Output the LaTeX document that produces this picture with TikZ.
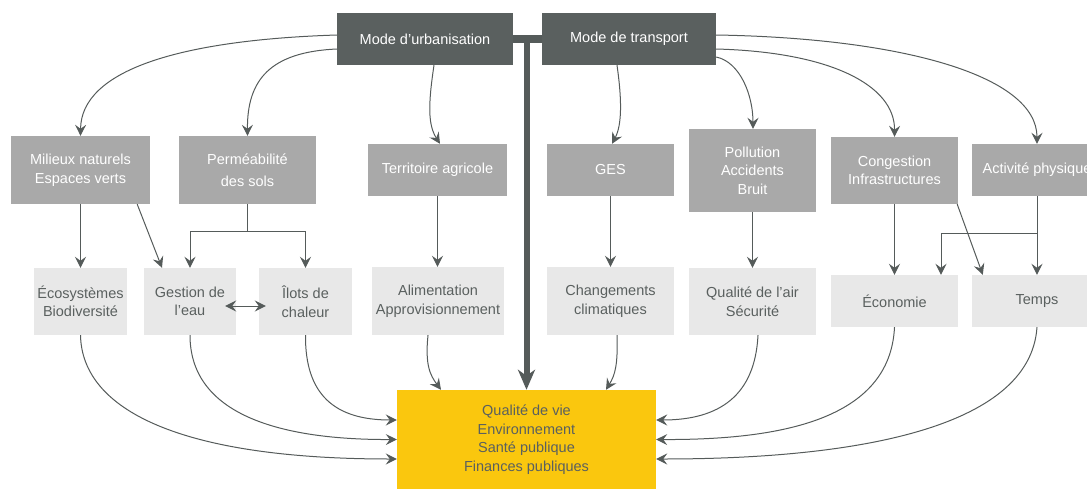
\documentclass[tikz,border=0pt]{standalone}
\usepackage{fontspec}
\setmainfont{Liberation Sans}
\usetikzlibrary{arrows.meta}

\definecolor{darkbox}{RGB}{90,96,95}
\definecolor{midbox}{RGB}{169,169,169}
\definecolor{lightbox}{RGB}{232,232,232}
\definecolor{yellowbox}{RGB}{250,199,14}
\definecolor{linegray}{RGB}{85,91,90}

\begin{document}
\begin{tikzpicture}[x=1pt, y=-1pt,
    every node/.style={font=\fontsize{14.5}{18.5}\selectfont, align=center, inner sep=0pt},
    topbox/.style={fill=darkbox, text=white, minimum height=52},
    midnode/.style={fill=midbox, text=white},
    lownode/.style={fill=lightbox, text=darkbox},
    arr/.style={draw=linegray, line width=1pt, -{Stealth[length=11pt, width=11pt, inset=4pt]}},
  ]
    \useasboundingbox (0,0) rectangle (1087,490);

    % Top row
    \node[topbox, minimum width=176] (urb) at (425,39) {Mode d’urbanisation};
    \node[topbox, minimum width=174] (trans) at (629,39) {Mode de transport};

    % Middle row
    \node[midnode, minimum width=139, minimum height=68] (milieux) at (80.5,170) {Milieux naturels\\Espaces verts};
    \node[midnode, minimum width=137, minimum height=68] (perm) at (247.5,170) {Perméabilité\\[3pt]des sols};
    \node[midnode, minimum width=139, minimum height=52] (terr) at (437.5,170) {Territoire agricole};
    \node[midnode, minimum width=127, minimum height=52] (ges) at (610.5,170) {GES};
    \node[midnode, minimum width=127, minimum height=83] (poll) at (752.5,170.5) {Pollution\\Accidents\\Bruit};
    \node[midnode, minimum width=127, minimum height=67] (cong) at (894.5,170.5) {Congestion\\Infrastructures};
    \node[midnode, minimum width=130, minimum height=52] (activ) at (1037,170) {Activité physique};

    % Bottom row
    \node[lownode, minimum width=93, minimum height=67] (eco) at (80.5,301.5) {Écosystèmes\\Biodiversité};
    \node[lownode, minimum width=92, minimum height=67] (gestion) at (190,301.5) {Gestion de\\l’eau};
    \node[lownode, minimum width=93, minimum height=67] (ilots) at (305.5,301.5) {Îlots de\\chaleur};
    \node[lownode, minimum width=132, minimum height=68] (alim) at (438,301) {Alimentation\\Approvisionnement};
    \node[lownode, minimum width=127, minimum height=68] (chang) at (610.5,301) {Changements\\climatiques};
    \node[lownode, minimum width=127, minimum height=67] (air) at (752.5,301.5) {Qualité de l’air\\Sécurité};
    \node[lownode, minimum width=127, minimum height=52] (econ) at (894.5,301) {Économie};
    \node[lownode, minimum width=130, minimum height=52] (temps) at (1037,301) {Temps};

    % Result
    \node[fill=yellowbox, text=darkbox, minimum width=259, minimum height=99] (qual) at (526.5,439.5)
        {Qualité de vie\\Environnement\\Santé publique\\Finances publiques};

    % Thick link between the two modes
    \coordinate (junc) at (urb.east -| qual.north);
    \draw[linegray, line width=8pt] (urb.east) -- (trans.west);
    \draw[linegray, line width=6pt, -{Stealth[length=20pt, width=17pt, inset=6pt]}] (junc) -- (qual.north);

    % Mode d'urbanisation -> middle row
    \draw[arr] ([yshift=4]urb.west) .. controls (180,40) and (81,70) .. (milieux.north);
    \draw[arr] ([yshift=-10]urb.west) .. controls (270,52) and (247,80) .. (perm.north);
    \draw[arr] ([xshift=9]urb.south) .. controls (428,105) and (428,125) .. ([xshift=2.5]terr.north);

    % Mode de transport -> middle row
    \draw[arr] ([xshift=-12]trans.south) .. controls (622,100) and (622,125) .. ([xshift=1.5]ges.north);
    \draw[arr] ([yshift=-18]trans.east) .. controls (740,62) and (753,95) .. ([xshift=0.5]poll.north);
    \draw[arr] ([yshift=-10]trans.east) .. controls (830,52) and (895,85) .. (cong.north);
    \draw[arr] ([yshift=4]trans.east) .. controls (900,38) and (1037,75) .. (activ.north);

    % Middle row -> bottom row
    \draw[arr] (milieux.south) -- (eco.north);
    \draw[arr] ([xshift=-13]milieux.south east) -- ([xshift=-28]gestion.north);
    \coordinate (permfork) at (247.5,231);
    \draw[arr] (perm.south) -- (permfork) -| (gestion.north);
    \draw[arr] (permfork) -| (ilots.north);
    \draw[arr, {Stealth[length=11pt, width=11pt, inset=4pt]}-{Stealth[length=11pt, width=11pt, inset=4pt]}]
        ([xshift=-11, yshift=-4.5]gestion.east) -- ([xshift=7, yshift=-4.5]ilots.west);
    \draw[arr] (terr.south) -- (terr.south |- alim.north);
    \draw[arr] (ges.south) -- (chang.north);
    \draw[arr] (poll.south) -- (air.north);
    \draw[arr] (cong.south) -- (econ.north);
    \draw[arr] ([xshift=-1]cong.south east) -- ([xshift=11]temps.north west);
    \coordinate (actfork) at (1037,233);
    \draw[arr] (activ.south) -- (temps.north);
    \draw[arr] (actfork) -| ([xshift=46.5]econ.north);

    % Bottom row -> Qualite de vie
    \draw[arr] (eco.south) .. controls (82,410) and (180,459) .. ([yshift=-19.5]qual.west);
    \draw[arr] (gestion.south) .. controls (190,410) and (270,440) .. (qual.west);
    \draw[arr] (ilots.south) .. controls (305,395) and (335,420) .. ([yshift=19.5]qual.west);
    \draw[arr] ([xshift=-10]alim.south) .. controls (425,365) and (430,375) .. ([xshift=-85.5]qual.north);
    \draw[arr] ([xshift=6.5]chang.south) .. controls (618,365) and (615,375) .. ([xshift=79.5]qual.north);
    \draw[arr] ([xshift=5.5]air.south) .. controls (755,395) and (720,420) .. ([yshift=19.5]qual.east);
    \draw[arr] (econ.south) .. controls (890,420) and (780,440) .. (qual.east);
    \draw[arr] (temps.south) .. controls (1030,430) and (850,459) .. ([yshift=-19.5]qual.east);
\end{tikzpicture}
\end{document}
